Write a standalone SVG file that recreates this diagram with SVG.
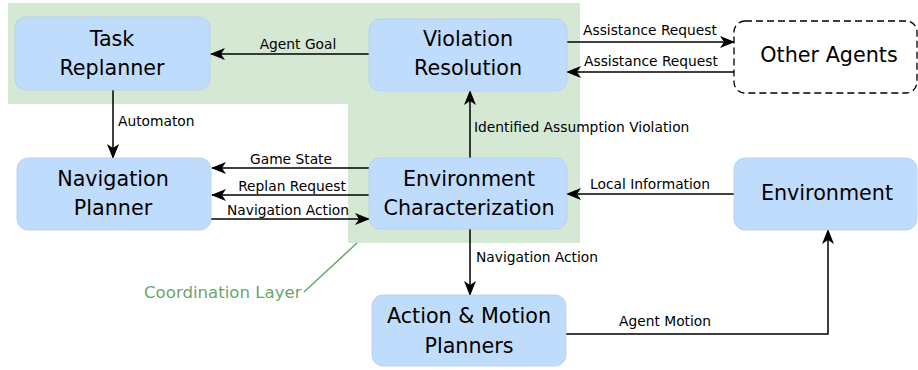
<svg xmlns="http://www.w3.org/2000/svg" width="918" height="370" viewBox="0 0 918 370">
<style>
.node{fill:#c0dcfc;stroke:#b2cdee;stroke-width:0.8}
.nt{font-family:"DejaVu Sans",sans-serif;font-size:20.7px;fill:#000;text-anchor:middle}
.et{font-family:"DejaVu Sans",sans-serif;font-size:13.8px;fill:#000}
.mid{text-anchor:middle}
.edge{fill:none;stroke:#000;stroke-width:1.5}
</style>
<defs>
<marker id="ah" viewBox="0 0 15 12" refX="14" refY="6" markerWidth="15" markerHeight="12" markerUnits="userSpaceOnUse" orient="auto">
<path d="M0,0 L15,6 L0,12 L4,6 Z" fill="#000"/>
</marker>
</defs>
<rect width="918" height="370" fill="#fff"/>
<g id="coordination-layer">
<polygon points="8,3 580,3 580,243 348,243 348,104 8,104" fill="#d5e8d4"/>
<path d="M304,292 L357,243" stroke="#6aa66a" stroke-width="1.5" fill="none"/>
<text x="144" y="298" font-family="DejaVu Sans,sans-serif" font-size="16.6px" fill="#6aa66a">Coordination Layer</text>
</g>
<g id="connectors">
<path class="edge" d="M369,54 L211,54" marker-end="url(#ah)"/>
<text class="et mid" x="298" y="49">Agent Goal</text>
<path class="edge" d="M113,90 L113,158" marker-end="url(#ah)"/>
<text class="et" x="118" y="126">Automaton</text>
<path class="edge" d="M369,168 L212,168" marker-end="url(#ah)"/>
<text class="et mid" x="291" y="164">Game State</text>
<path class="edge" d="M369,195 L212,195" marker-end="url(#ah)"/>
<text class="et mid" x="292" y="191">Replan Request</text>
<path class="edge" d="M211,219 L369,219" marker-end="url(#ah)"/>
<text class="et mid" x="288" y="215">Navigation Action</text>
<path class="edge" d="M470,158 L470,91" marker-end="url(#ah)"/>
<text class="et" x="474" y="132">Identified Assumption Violation</text>
<path class="edge" d="M567,42 L734,42" marker-end="url(#ah)"/>
<text class="et" x="583" y="35">Assistance Request</text>
<path class="edge" d="M734,72 L567,72" marker-end="url(#ah)"/>
<text class="et" x="584" y="66">Assistance Request</text>
<path class="edge" d="M734,194 L567,194" marker-end="url(#ah)"/>
<text class="et" x="590" y="189">Local Information</text>
<path class="edge" d="M470,229 L470,295" marker-end="url(#ah)"/>
<text class="et" x="476" y="262">Navigation Action</text>
<path class="edge" d="M566,334 L828,334 L828,230" marker-end="url(#ah)"/>
<text class="et mid" x="665" y="326">Agent Motion</text>
</g>
<g id="task-replanner">
<rect class="node" x="15" y="17" width="195" height="73" rx="11"/>
<text class="nt" x="112" y="46">Task</text>
<text class="nt" x="112" y="75">Replanner</text>
</g>
<g id="violation-resolution">
<rect class="node" x="369" y="19" width="198" height="72" rx="11"/>
<text class="nt" x="468" y="46">Violation</text>
<text class="nt" x="468" y="75">Resolution</text>
</g>
<g id="other-agents">
<rect x="734" y="21" width="183" height="72" rx="11" fill="#fff" stroke="#000" stroke-width="1.3" stroke-dasharray="7,4"/>
<text class="nt" x="829" y="62">Other Agents</text>
</g>
<g id="navigation-planner">
<rect class="node" x="17" y="158" width="194" height="72" rx="11"/>
<text class="nt" x="113" y="186">Navigation</text>
<text class="nt" x="113" y="215">Planner</text>
</g>
<g id="environment-characterization">
<rect class="node" x="369" y="158" width="198" height="71" rx="11"/>
<text class="nt" x="469" y="186">Environment</text>
<text class="nt" x="469" y="215">Characterization</text>
</g>
<g id="environment">
<rect class="node" x="734" y="158" width="183" height="72" rx="11"/>
<text class="nt" x="827" y="200">Environment</text>
</g>
<g id="action-motion-planners">
<rect class="node" x="372" y="295" width="194" height="71" rx="11"/>
<text class="nt" x="469" y="323">Action &amp; Motion</text>
<text class="nt" x="469" y="353">Planners</text>
</g>
</svg>
